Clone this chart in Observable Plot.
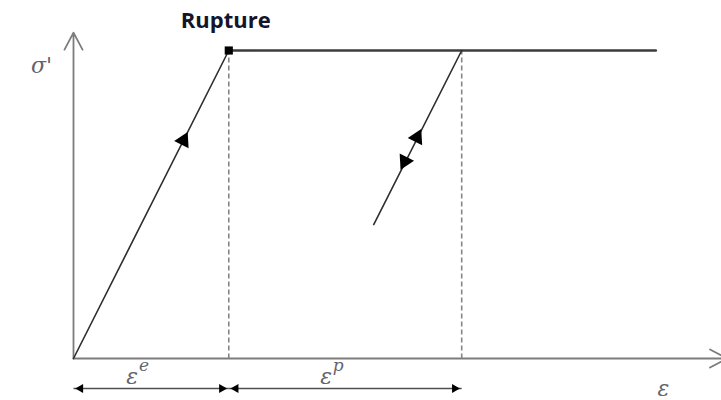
<!DOCTYPE html>
<html>
<head>
<meta charset="utf-8">
<script src="https://cdn.jsdelivr.net/npm/d3@7"></script>
<script src="https://cdn.jsdelivr.net/npm/@observablehq/plot@0.6"></script>
<style>
  html, body { margin: 0; padding: 0; background: #fff; }
</style>
</head>
<body>
<div id="chart"></div>
<script>
// Elastic – perfectly plastic behaviour: stress σ' versus strain ε
const loadStrain = [0, 2.4];          // elastic loading up to rupture
const loadStress = [0, 1];
const plateauStrain = [2.4, 9.0];     // perfectly plastic plateau
const plateauStress = [1, 1];
const unloadStrain = [6.0, 4.64];     // elastic unloading / reloading branch
const unloadStress = [1, 0.435];
const dropStrain = [2.4, 6.0];        // strains marked by dashed verticals
const ruptureStrain = [2.4];
const ruptureStress = [1];
const markerStrain = [1.7, 5.31, 5.12];   // direction arrows along the paths
const markerStress = [0.708, 0.718, 0.64];
const markerDir = ["up", "up", "down"];
const partNames = ["e", "p"];             // ε^e and ε^p
const partStart = [0, 2.4];
const partEnd = [2.4, 6.0];
const strainAxisEnd = 10;
const stressAxisEnd = 1.058;

const xDomain = [0, 10], xRange = [73, 720];
const yDomain = [0, 1], yRange = [358, 50];

// slope of the elastic branches in screen space, for orienting the triangles
const kx = (xRange[1] - xRange[0]) / (xDomain[1] - xDomain[0]);
const ky = (yRange[0] - yRange[1]) / (yDomain[1] - yDomain[0]);
const elasticSlope = (loadStress[1] - loadStress[0]) / (loadStrain[1] - loadStrain[0]);
const tilt = Math.atan2(kx, elasticSlope * ky) * 180 / Math.PI;

const path = (xs, ys) => xs.map((v, i) => ({x: v, y: ys[i]}));
const markers = markerStrain.map((v, i) => ({x: v, y: markerStress[i], rot: markerDir[i] === "up" ? tilt : tilt + 180}));
const parts = partNames.map((n, i) => ({name: n, x1: partStart[i], x2: partEnd[i], mid: (partStart[i] + partEnd[i]) / 2}));
const drops = dropStrain.map(v => ({x: v, y1: 0, y2: 1}));

const serif = "'DejaVu Serif', 'Liberation Serif', serif";
const labelColor = "#62636b";

const chart = Plot.plot({
  width: 721,
  height: 400,
  x: {domain: xDomain, range: xRange, axis: null},
  y: {domain: yDomain, range: yRange, axis: null},
  marks: [
    // axes with open arrowheads
    Plot.arrow([{x1: 0, y1: 0, x2: 0, y2: stressAxisEnd}], {x1: "x1", y1: "y1", x2: "x2", y2: "y2", stroke: "#7c7c7c", strokeWidth: 1.8, headLength: 16, headAngle: 56}),
    Plot.arrow([{x1: 0, y1: 0, x2: strainAxisEnd + 0.1, y2: 0}], {x1: "x1", y1: "y1", x2: "x2", y2: "y2", stroke: "#7c7c7c", strokeWidth: 1.8, headLength: 16, headAngle: 56}),
    // dashed verticals down to the strain axis
    Plot.link(drops, {x1: "x", x2: "x", y1: "y1", y2: "y2", stroke: "#858585", strokeWidth: 1.6, strokeDasharray: "5,3"}),
    // stress–strain paths
    Plot.line(path(plateauStrain, plateauStress), {x: "x", y: "y", stroke: "#3c3c3c", strokeWidth: 2.6}),
    Plot.line(path(loadStrain, loadStress), {x: "x", y: "y", stroke: "#2e2e2e", strokeWidth: 1.6}),
    Plot.line(path(unloadStrain, unloadStress), {x: "x", y: "y", stroke: "#2e2e2e", strokeWidth: 1.6}),
    Plot.dot(markers, {x: "x", y: "y", symbol: "triangle", r: 6, fill: "#000", rotate: "rot"}),
    // rupture point
    Plot.dot(path(ruptureStrain, ruptureStress), {x: "x", y: "y", symbol: "square", r: 4.6, fill: "#000"}),
    Plot.text(path(ruptureStrain, ruptureStress), {x: "x", y: "y", text: () => "Rupture", dy: -30, dx: -3, fontSize: 22, fontWeight: "bold", fontFamily: "'Open Sans', sans-serif", fill: "#14142a"}),
    // strain components below the axis
    Plot.link(parts, {x1: "x1", x2: "x2", y1: () => 0, y2: () => 0, dy: 30, insetLeft: 3, insetRight: 3, stroke: "#505050", strokeWidth: 1.6}),
    Plot.dot(parts, {x: "x1", y: () => 0, dy: 30, dx: 7, symbol: "triangle", r: 3.4, rotate: -90, fill: "#000"}),
    Plot.dot(parts, {x: "x2", y: () => 0, dy: 30, dx: -7, symbol: "triangle", r: 3.4, rotate: 90, fill: "#000"}),
    Plot.text(parts, {x: "mid", y: () => 0, text: () => "ε", dx: -19, dy: 18, fontSize: 22, fontStyle: "italic", fontFamily: serif, fill: labelColor}),
    Plot.text(parts, {x: "mid", y: () => 0, text: "name", dx: -7, dy: 7, fontSize: 17, fontStyle: "italic", fontFamily: serif, fill: labelColor}),
    // axis titles
    Plot.text([{x: 0, y: 0}], {x: "x", y: "y", text: () => "ε", dx: 590, dy: 30, fontSize: 22, fontStyle: "italic", fontFamily: serif, fill: labelColor}),
    Plot.text([{x: 0, y: stressAxisEnd}], {x: "x", y: "y", text: () => "σ'", dx: -32, dy: 33, fontSize: 22, fontStyle: "italic", fontFamily: serif, fill: labelColor})
  ]
});
document.getElementById("chart").append(chart);
</script>
</body>
</html>
